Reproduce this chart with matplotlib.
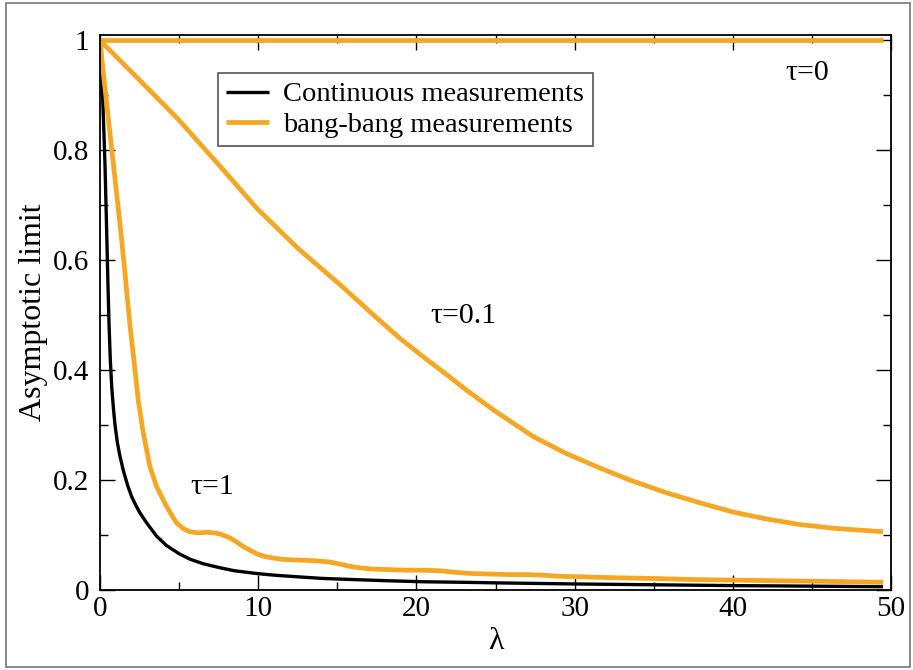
import matplotlib
matplotlib.use("Agg")
import matplotlib.pyplot as plt
from matplotlib.patches import Rectangle
from matplotlib.ticker import MultipleLocator

# ---- data ----
lam_cont = [0.0, 0.08, 0.17, 0.25, 0.32, 0.42, 0.5, 0.57, 0.65, 0.74, 0.85, 0.95, 1.1, 1.25, 1.47,
            1.75, 2.0, 2.25, 2.53, 3.0, 3.58, 4.2, 5.0, 5.69, 6.5, 7.5, 8.5, 9.9, 11.0, 12.5, 14.1,
            16.0, 18.0, 20.4, 23.0, 25.0, 30.0, 35.0, 40.0, 45.0, 49.5]
val_cont = [1.0, 0.95, 0.895, 0.83, 0.77, 0.655, 0.56, 0.485, 0.42, 0.37, 0.33, 0.30, 0.268, 0.245, 0.218,
            0.19, 0.17, 0.155, 0.14, 0.12, 0.098, 0.081, 0.066, 0.056, 0.048, 0.041, 0.035, 0.030, 0.027, 0.024, 0.021,
            0.019, 0.017, 0.015, 0.014, 0.013, 0.011, 0.0095, 0.008, 0.007, 0.006]

lam_bb1 = [0.0, 0.25, 0.5, 0.75, 1.0, 1.25, 1.5, 1.75, 1.9, 2.1, 2.42, 2.74, 3.16, 3.58, 4.21, 4.6, 4.85,
           5.3, 5.69, 6.2, 6.74, 7.2, 7.59, 8.2, 8.6, 9.06, 9.5, 9.9, 10.4, 10.96, 11.5, 12.0, 13.0, 13.7,
           14.5, 15.2, 15.8, 16.5, 17.3, 18.4, 19.4, 20.5, 21.5, 22.5, 23.5, 24.65, 26.0, 27.0, 28.0,
           29.0, 30.5, 31.6, 33.0, 35.0, 37.5, 40.0, 42.5, 45.0, 47.5, 49.5]
val_bb1 = [1.0, 0.93, 0.865, 0.8, 0.735, 0.67, 0.6, 0.525, 0.48, 0.43, 0.345, 0.285, 0.224, 0.188, 0.152, 0.133, 0.122,
           0.111, 0.106, 0.104, 0.105, 0.104, 0.102, 0.095, 0.088, 0.079, 0.072, 0.066, 0.061, 0.058, 0.056, 0.055, 0.054, 0.053,
           0.051, 0.047, 0.043, 0.04, 0.038, 0.037, 0.036, 0.036, 0.035, 0.032, 0.030, 0.029, 0.028, 0.028, 0.027,
           0.025, 0.024, 0.023, 0.022, 0.021, 0.019, 0.018, 0.017, 0.016, 0.015, 0.014]

lam_bb01 = [0.0, 2.5, 5.0, 7.5, 9.9, 12.5, 15.2, 17.5, 18.96, 20.4, 22.0, 23.2, 25.0, 27.4, 29.5, 31.6,
            33.5, 35.8, 38.0, 40.0, 42.0, 44.25, 46.5, 48.0, 49.5]
val_bb01 = [1.0, 0.928, 0.855, 0.774, 0.695, 0.622, 0.555, 0.495, 0.458, 0.425, 0.39, 0.363, 0.325, 0.279, 0.248, 0.222,
            0.2, 0.177, 0.158, 0.142, 0.13, 0.119, 0.112, 0.109, 0.106]

lam_bb0 = [0.0, 49.5]
val_bb0 = [1.0, 1.0]

x_ticks = [0, 10, 20, 30, 40, 50]
y_ticks = [0, 0.2, 0.4, 0.6, 0.8, 1]
y_tick_labels = ["0", "0.2", "0.4", "0.6", "0.8", "1"]

ORANGE = "#F5A623"

plt.rcParams['font.family'] = ['Liberation Serif', 'DejaVu Serif']

fig = plt.figure(figsize=(9.13, 6.70), dpi=100)
ax = fig.add_axes([100/913, 1 - 590/670, (891-100)/913, (590-35)/670])

kw = dict(solid_joinstyle='round', solid_capstyle='butt')
ax.plot(lam_bb0, val_bb0, color=ORANGE, lw=3.4, **kw)
ax.plot(lam_bb01, val_bb01, color=ORANGE, lw=3.4, **kw)
ax.plot(lam_cont, val_cont, color="black", lw=2.4, label="Continuous measurements", **kw)
ax.plot(lam_bb1, val_bb1, color=ORANGE, lw=3.4, label="bang-bang measurements", **kw)

ax.set_xlim(0, 50)
ax.set_ylim(0, 1.01)
ax.set_xticks(x_ticks)
ax.set_yticks(y_ticks)
ax.set_yticklabels(y_tick_labels)
ax.xaxis.set_minor_locator(MultipleLocator(5))
ax.yaxis.set_minor_locator(MultipleLocator(0.1))
ax.tick_params(which='both', direction='in', top=True, right=True, labelsize=21, width=1.0)
ax.tick_params(which='major', length=11, pad=4)
ax.tick_params(which='minor', length=6)
ax.tick_params(axis='y', which='major', pad=8)
for s in ax.spines.values():
    s.set_linewidth(1.3)

ax.set_xlabel("λ", fontsize=23, labelpad=4)
ax.set_ylabel("Asymptotic limit", fontsize=23, labelpad=3)

leg = ax.legend(loc='upper left', bbox_to_anchor=(0.149, 0.9315), fontsize=20.5,
                frameon=True, fancybox=False, edgecolor='#555555', framealpha=1,
                handlelength=1.5, handletextpad=0.5, borderpad=0.3, labelspacing=0.15,
                borderaxespad=0)
leg.get_frame().set_linewidth(1.2)

ax.text(44.7, 0.94, "τ=0", fontsize=21.5, ha='center', va='center')
ax.text(23.0, 0.498, "τ=0.1", fontsize=21.5, ha='center', va='center')
ax.text(7.1, 0.188, "τ=1", fontsize=21.5, ha='center', va='center')

fig.patches.append(Rectangle((6/913, 3/670), (910-6)/913, (667-3)/670,
                             transform=fig.transFigure, fill=False,
                             edgecolor='#777777', lw=1.2))

fig.savefig("out.png", dpi=100)
